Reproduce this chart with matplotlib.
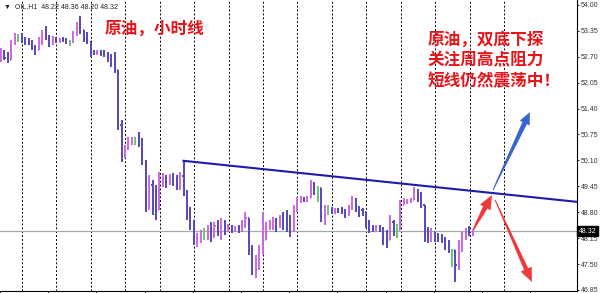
import numpy as np
import matplotlib
matplotlib.use("Agg")
import matplotlib.pyplot as plt
from matplotlib.collections import LineCollection
from matplotlib.patches import Polygon

# H1 bars, OIL
first_open = 52.70
highs = [52.92, 52.87, 52.82, 53.12, 53.30, 53.27, 53.30, 53.20, 53.17, 53.12,
         53.00, 53.20, 53.37, 53.47, 53.25, 53.22, 53.20, 53.17, 53.20, 53.17,
         53.12, 53.35, 53.57, 53.72, 53.37, 53.32, 53.07, 52.87, 52.87, 52.87,
         52.87, 52.82, 52.77, 52.82, 52.37, 51.11, 50.49, 50.69, 50.69, 50.69,
         50.81, 50.66, 50.11, 49.73, 49.61, 49.48, 49.81, 49.78, 49.73, 49.76,
         49.78, 49.73, 49.81, 50.09, 49.36, 48.93, 48.61, 48.28, 48.35, 48.41,
         48.48, 48.56, 48.56, 48.61, 48.66, 48.61, 48.51, 48.48, 48.46, 48.48,
         48.61, 48.81, 48.66, 47.98, 47.73, 47.98, 48.81, 48.56, 48.61, 48.68,
         48.66, 48.73, 48.81, 48.86, 48.73, 48.98, 49.18, 49.21, 49.18, 49.21,
         49.61, 49.56, 49.46, 49.41, 48.98, 48.98, 48.93, 48.91, 48.91, 48.93,
         48.88, 48.98, 49.21, 49.16, 48.96, 48.91, 48.81, 48.61, 48.48, 48.48,
         48.48, 48.43, 48.35, 48.73, 48.61, 48.51, 49.11, 49.16, 49.13, 49.16,
         49.43, 49.38, 49.31, 48.98, 48.43, 48.41, 48.30, 48.28, 48.25, 48.18,
         48.10, 47.85, 47.85, 48.10, 48.30, 48.41, 48.46, 48.36]
lows = [52.57, 52.62, 52.54, 52.62, 53.00, 53.07, 53.05, 53.00, 53.00, 52.87,
        52.75, 52.87, 53.00, 53.12, 52.95, 53.00, 53.05, 53.05, 53.07, 53.02,
        52.97, 53.05, 53.22, 53.27, 53.07, 53.02, 52.70, 52.75, 52.75, 52.72,
        52.70, 52.57, 52.44, 52.29, 50.86, 50.06, 50.16, 50.36, 50.49, 50.49,
        50.44, 49.99, 48.81, 48.86, 48.73, 48.61, 48.86, 49.43, 49.41, 49.48,
        49.46, 49.36, 49.36, 49.21, 48.61, 48.35, 47.98, 47.93, 48.03, 48.10,
        48.10, 48.05, 48.15, 48.20, 48.10, 48.23, 48.30, 48.28, 48.30, 48.28,
        48.30, 48.41, 47.73, 47.23, 47.15, 47.35, 47.73, 48.10, 48.35, 48.35,
        48.30, 48.41, 48.35, 48.30, 48.18, 48.30, 48.81, 49.03, 49.06, 49.06,
        49.16, 49.23, 49.06, 48.56, 48.48, 48.73, 48.76, 48.76, 48.78, 48.76,
        48.66, 48.71, 48.86, 48.81, 48.68, 48.71, 48.41, 48.28, 48.30, 48.33,
        48.30, 47.98, 47.90, 48.10, 48.20, 48.15, 48.35, 48.98, 49.01, 49.03,
        49.11, 49.06, 48.91, 48.05, 48.03, 48.05, 48.05, 48.05, 48.03, 47.85,
        47.78, 47.43, 47.05, 47.35, 47.80, 48.10, 48.20, 48.20]
closes = [52.75, 52.67, 52.62, 53.07, 53.17, 53.17, 53.12, 53.07, 53.05, 52.92,
          52.87, 53.12, 53.25, 53.20, 53.07, 53.12, 53.10, 53.15, 53.12, 53.07,
          53.07, 53.30, 53.42, 53.37, 53.17, 53.07, 52.82, 52.80, 52.82, 52.77,
          52.75, 52.67, 52.54, 52.37, 50.99, 50.24, 50.41, 50.61, 50.66, 50.66,
          50.64, 50.06, 49.11, 49.48, 48.98, 48.86, 49.61, 49.66, 49.56, 49.66,
          49.61, 49.48, 49.71, 49.31, 48.73, 48.48, 48.10, 48.15, 48.20, 48.20,
          48.41, 48.23, 48.46, 48.35, 48.48, 48.41, 48.46, 48.35, 48.41, 48.33,
          48.48, 48.66, 47.85, 47.40, 47.55, 47.85, 48.10, 48.41, 48.48, 48.56,
          48.48, 48.61, 48.56, 48.48, 48.35, 48.86, 49.11, 49.13, 49.08, 49.16,
          49.48, 49.41, 49.41, 48.73, 48.86, 48.86, 48.83, 48.88, 48.86, 48.81,
          48.76, 48.91, 49.11, 48.91, 48.86, 48.81, 48.51, 48.41, 48.38, 48.43,
          48.35, 48.15, 48.10, 48.56, 48.35, 48.35, 48.98, 49.06, 49.08, 49.11,
          49.36, 49.21, 48.98, 48.30, 48.23, 48.30, 48.20, 48.15, 48.10, 47.98,
          47.85, 47.85, 47.48, 47.98, 48.15, 48.30, 48.22, 48.32]

price_ticks = [54.00, 53.35, 52.70, 52.05, 51.40, 50.75, 50.10, 49.45, 48.80,
               48.15, 47.50, 46.85]
day_breaks = [6.1, 16.1, 26.1, 36.1, 46.1, 56.1, 66.1, 76.1, 86.1, 96.1,
              106.1, 116.1, 126.1, 136.1, 146.1]
time_ticks = [-0.3, 13.7, 27.7, 41.7, 55.7, 69.7, 83.7, 97.7, 111.7, 125.7,
              139.7, 153.7]

# resistance line (bar index, price)
trend_x = [53, 167.3]
trend_y = [50.09, 49.06]

# hand drawn arrows: tail, tip
arrow_up_red = [(137.1, 48.35), (142.6, 49.23)]
arrow_up_blue = [(142.9, 49.36), (153.6, 51.31)]
arrow_down_red = [(143.5, 49.11), (154.2, 47.05)]

UP = '#cc66e6'
DOWN = '#5448c0'
DOJI = '#6cc46c'

fig = plt.figure(figsize=(6.0, 2.93), dpi=100)
ax = fig.add_axes([0.0, 0.0078, 0.9617, 0.9922])
ax.set_xlim(-0.29, 167.3)
ax.set_ylim(46.83, 54.125)

highs = np.array(highs)
lows = np.array(lows)
closes = np.array(closes)
opens = np.r_[first_open, closes[:-1]]
xs = np.arange(len(closes))

segs, cols = [], []
for i in range(len(xs)):
    if closes[i] > opens[i]:
        c = UP
    elif closes[i] < opens[i]:
        c = DOWN
    else:
        c = DOJI
    segs.append([(xs[i], lows[i]), (xs[i], highs[i])])
    segs.append([(xs[i] - 0.3, opens[i]), (xs[i], opens[i])])
    segs.append([(xs[i], closes[i]), (xs[i] + 0.3, closes[i])])
    cols += [c, c, c]
ax.add_collection(LineCollection(segs, colors=cols, linewidths=1.4, zorder=3))

for d in day_breaks:
    ax.axvline(d, color='black', lw=0.7, ls=(0, (2, 2)), zorder=1)

ax.axhline(closes[-1], color='#a3aaa8', lw=0.9, zorder=2)
ax.plot(trend_x, trend_y, color='#1c1caa', lw=1.5, zorder=4)


def tapered_arrow(tail, tip, color, tail_w, shaft_w, head_w, head_len):
    t = ax.transData
    p0 = t.transform(tail)
    p1 = t.transform(tip)
    d = p1 - p0
    u = d / np.hypot(*d)
    n = np.array([-u[1], u[0]])
    base = p1 - u * head_len
    pts = [p0 + n * tail_w / 2, base + n * shaft_w / 2, base + n * head_w / 2, p1,
           base - n * head_w / 2, base - n * shaft_w / 2, p0 - n * tail_w / 2]
    pts = t.inverted().transform(pts)
    ax.add_patch(Polygon(pts, closed=True, color=color, lw=0, zorder=5))


tapered_arrow(arrow_up_red[0], arrow_up_red[1], '#f03a3a', 1.5, 5, 12, 14)
tapered_arrow(arrow_up_blue[0], arrow_up_blue[1], '#3a64d0', 1, 5, 11, 12)
tapered_arrow(arrow_down_red[0], arrow_down_red[1], '#f03a3a', 1, 4.5, 12, 14)

# axes look (MT4 style)
ax.spines['top'].set_visible(False)
ax.spines['left'].set_visible(False)
ax.spines['right'].set_linewidth(0.8)
ax.spines['bottom'].set_linewidth(0.8)
ax.yaxis.tick_right()
ax.set_yticks(price_ticks)
ax.set_yticklabels([f'{p:.2f}' for p in price_ticks])
ax.set_xticks(time_ticks)
ax.set_xticklabels([])
ax.tick_params(axis='y', length=1.5, width=0.6, pad=1.5, labelsize=5,
               labelcolor='#333333')
ax.tick_params(axis='x', length=2.5, width=0.6)
for lab in ax.get_yticklabels():
    lab.set_fontfamily(['Liberation Sans', 'DejaVu Sans'])

ax.text(1.003, closes[-1], f'{closes[-1]:.2f}', transform=ax.get_yaxis_transform(),
        color='white', fontsize=5, va='center', ha='left', clip_on=False,
        family=['Liberation Sans', 'DejaVu Sans'],
        bbox=dict(boxstyle='square,pad=0.2', fc='black', ec='black'))

header = '\u25bc  OIL,H1  {:.2f} {:.2f} {:.2f} {:.2f}'.format(
    opens[-1], highs[-1], lows[-1], closes[-1])
fig.text(0.006, 0.976, header, fontsize=5, va='center', ha='left', color='#222222',
         family=['Liberation Sans', 'DejaVu Sans'])

cjk = ['Noto Sans CJK SC', 'DejaVu Sans']
red = '#e8141a'
fig.text(0.175, 0.901, '原油，小时线', fontsize=12, fontweight='bold', color=red,
         va='center', ha='left', family=cjk)
for y, line in zip([0.864, 0.795, 0.724],
                   ['原油，双底下探', '关注周高点阻力', '短线仍然震荡中！']):
    fig.text(0.713, y, line, fontsize=12, fontweight='bold', color=red,
             va='center', ha='left', family=cjk)

fig.savefig('out.png', dpi=100)
